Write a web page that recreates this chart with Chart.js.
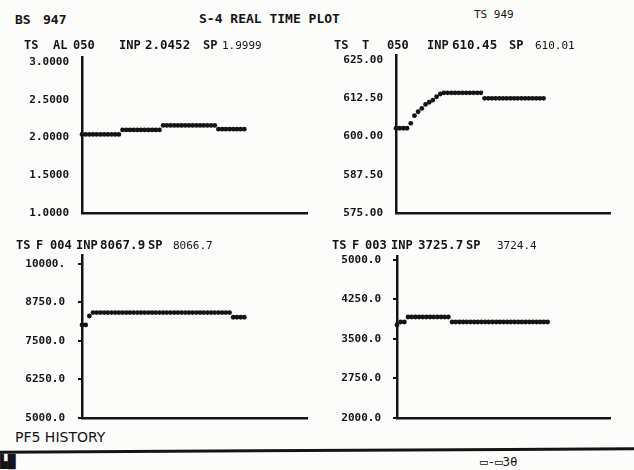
<!DOCTYPE html>
<html>
<head>
<meta charset="utf-8">
<script src="https://cdn.jsdelivr.net/npm/chart.js@4.4.1/dist/chart.umd.min.js"></script>
<style>
  html, body { margin: 0; padding: 0; background: #fcfcfb; }
  #screen { position: relative; width: 634px; height: 470px; overflow: hidden; color: #141414; font-family: 'DejaVu Sans Mono', monospace; }
  .txt { position: absolute; white-space: pre; line-height: 1; transform: translateY(-50%); z-index: 2; }
  .b { font-weight: bold; font-size: 12px; }
  .num { font-weight: bold; font-size: 12.5px; }
  .n { font-weight: normal; font-size: 11px; }
  .big { font-weight: bold; font-size: 13px; }
  .mark { font-weight: normal; font-size: 12.5px; }
  .foot { font-family: 'DejaVu Sans', sans-serif; font-size: 14px; }
  canvas { position: absolute; z-index: 1; }
  #rule { position: absolute; left: -4px; top: 449px; width: 642px; height: 3px; background: #141414; transform: rotate(-0.3deg); }
</style>
</head>
<body>
<div id="screen">
  <canvas id="c-al" width="317" height="175" style="left:0;top:45px"></canvas>
  <canvas id="c-t" width="317" height="175" style="left:317px;top:45px"></canvas>
  <canvas id="c-f4" width="317" height="180" style="left:0;top:245px"></canvas>
  <canvas id="c-f3" width="317" height="180" style="left:317px;top:245px"></canvas>
  <div id="rule"></div>
</div>
<script>
// --- data ---

// TS AL 050
const alTicks = [1.0, 1.5, 2.0, 2.5, 3.0];
const alTickLabels = ['1.0000', '1.5000', '2.0000', '2.5000', '3.0000'];
const alValues = [
  2.04, 2.04, 2.04, 2.04, 2.04, 2.04, 2.04, 2.04, 2.04, 2.04, 2.04,
  2.10, 2.10, 2.10, 2.10, 2.10, 2.10, 2.10, 2.10, 2.10, 2.10, 2.10,
  2.16, 2.16, 2.16, 2.16, 2.16, 2.16, 2.16, 2.16, 2.16, 2.16, 2.16, 2.16, 2.16, 2.16, 2.16,
  2.11, 2.11, 2.11, 2.11, 2.11, 2.11, 2.11, 2.11
];
const alTitle = ['TS', 'AL', '050', 'INP', '2.0452', 'SP', '1.9999'];

// TS T 050
const tTicks = [575, 587.5, 600, 612.5, 625];
const tTickLabels = ['575.00', '587.50', '600.00', '612.50', '625.00'];
const tValues = [
  602.7, 602.7, 602.7, 602.7,
  604.3, 606.8, 608.1, 609.2, 610.5, 611.2, 611.9, 613.0, 613.9,
  614.3, 614.3, 614.3, 614.3, 614.3, 614.3, 614.3, 614.3, 614.3, 614.3, 614.3,
  612.5, 612.5, 612.5, 612.5, 612.5, 612.5, 612.5, 612.5, 612.5, 612.5, 612.5, 612.5, 612.5, 612.5, 612.5, 612.5, 612.5
];
const tTitle = ['TS', 'T', '050', 'INP', '610.45', 'SP', '610.01'];

// TS F 004
const f4Ticks = [5000, 6250, 7500, 8750, 10000];
const f4TickLabels = ['5000.0', '6250.0', '7500.0', '8750.0', '10000.'];
const f4Values = [
  8020, 8020, 8310,
  8420, 8420, 8420, 8420, 8420, 8420, 8420, 8420, 8420, 8420,
  8420, 8420, 8420, 8420, 8420, 8420, 8420, 8420, 8420, 8420,
  8420, 8420, 8420, 8420, 8420, 8420, 8420, 8420, 8420, 8420,
  8420, 8420, 8420, 8420, 8420, 8420, 8420, 8420,
  8270, 8270, 8270, 8270
];
const f4Title = ['TS', 'F', '004', 'INP', '8067.9', 'SP', '8066.7'];

// TS F 003
const f3Ticks = [2000, 2750, 3500, 4250, 5000];
const f3TickLabels = ['2000.0', '2750.0', '3500.0', '4250.0', '5000.0'];
const f3Values = [
  3765, 3822, 3822,
  3917, 3917, 3917, 3917, 3917, 3917, 3917, 3917, 3917, 3917, 3917, 3917,
  3822, 3822, 3822, 3822, 3822, 3822, 3822, 3822, 3822, 3822, 3822, 3822, 3822, 3822,
  3822, 3822, 3822, 3822, 3822, 3822, 3822, 3822, 3822, 3822, 3822, 3822, 3822
];
const f3Title = ['TS', 'F', '003', 'INP', '3725.7', 'SP', '3724.4'];

const INK = '#141414';
const screenEl = document.getElementById('screen');

// put one piece of text on the screen
function scrivi(x, y, text, cls) {
  const el = document.createElement('div');
  el.className = 'txt ' + cls;
  el.style.left = x + 'px';
  el.style.top = y + 'px';
  el.textContent = text;
  screenEl.appendChild(el);
}

// title line of a panel: INP value a bit larger, setpoint value in the thin font
function scriviTitolo(tokens, xs, y) {
  tokens.forEach((tok, i) => {
    let cls = 'b';
    if (i === 4) cls = 'num';
    if (i === tokens.length - 1) cls = 'n';
    scrivi(xs[i], y, tok, cls);
  });
}

function disegnaPannello(p) {
  const canvas = document.getElementById(p.id);
  const punti = p.values.map((v, i) => ({ x: i, y: v }));
  const lo = p.ticks[0];
  const hi = p.ticks[p.ticks.length - 1];

  return new Chart(canvas.getContext('2d'), {
    type: 'scatter',
    data: {
      datasets: [{
        data: punti,
        backgroundColor: INK,
        borderWidth: 0,
        pointRadius: 2.4,
        pointStyle: 'circle',
        clip: false
      }]
    },
    options: {
      responsive: false,
      animation: false,
      events: [],
      layout: { padding: p.pad },
      plugins: { legend: { display: false }, tooltip: { enabled: false } },
      scales: {
        x: {
          type: 'linear', min: 0, max: p.xMax,
          grid: { display: false, drawTicks: false },
          ticks: { display: false },
          border: { display: true, color: INK, width: 2.5 },
          afterFit: (s) => { s.height = 0; s.paddingLeft = 0; s.paddingRight = 0; }
        },
        y: {
          type: 'linear', min: lo, max: hi + (hi - lo) * p.over,
          afterBuildTicks: (s) => { s.ticks = p.ticks.map(v => ({ value: v })); },
          ticks: {
            callback: (v) => p.labels[p.ticks.indexOf(v)],
            color: INK,
            font: { family: 'DejaVu Sans Mono', size: 11, weight: 'bold' },
            padding: p.lblPad,
            autoSkip: false
          },
          grid: { display: p.tickMarks, drawOnChartArea: false, drawTicks: p.tickMarks, tickLength: 4, color: INK, lineWidth: 2 },
          border: { display: true, color: INK, width: 2.5 },
          // fixed axis width, and no extra room for the end labels
          afterFit: (s) => { s.width = p.axisW; s.paddingTop = 0; s.paddingBottom = 0; }
        }
      }
    }
  });
}

const pannelli = [
  { id: 'c-al', values: alValues, ticks: alTicks, labels: alTickLabels, xMax: 61, over: 0.033,
    axisW: 82, pad: { top: 12, right: 10, bottom: 7, left: 0 }, lblPad: 13, tickMarks: false },
  { id: 'c-t', values: tValues, ticks: tTicks, labels: tTickLabels, xMax: 58, over: 0.033,
    axisW: 79, pad: { top: 10, right: 24, bottom: 7, left: 0 }, lblPad: 13, tickMarks: false },
  { id: 'c-f4', values: f4Values, ticks: f4Ticks, labels: f4TickLabels, xMax: 61, over: 0.058,
    axisW: 82, pad: { top: 10, right: 10, bottom: 7, left: 0 }, lblPad: 13, tickMarks: true },
  { id: 'c-f3', values: f3Values, ticks: f3Ticks, labels: f3TickLabels, xMax: 58, over: 0.025,
    axisW: 80, pad: { top: 11, right: 24, bottom: 7, left: 0 }, lblPad: 12, tickMarks: true }
];

pannelli.forEach(disegnaPannello);

// header
scrivi(15, 19, 'BS', 'big');
scrivi(43, 19, '947', 'big');
scrivi(199, 18, 'S-4 REAL TIME PLOT', 'big');
scrivi(474, 14, 'TS 949', 'n');

// panel titles
scriviTitolo(alTitle, [24, 53, 73, 119, 145, 203, 222], 45);
scriviTitolo(tTitle, [334, 362, 387, 427, 452, 509, 535], 45);
scriviTitolo(f4Title, [16, 36, 50, 76, 100, 148, 173], 245);
scriviTitolo(f3Title, [332, 352, 365, 391, 418, 466, 497], 245);

// footer
scrivi(15, 437, 'PF5 HISTORY', 'foot');
scrivi(0, 461, '▙█', 'big');
scrivi(480, 462, '▭-▭3θ', 'mark');
</script>
</body>
</html>
